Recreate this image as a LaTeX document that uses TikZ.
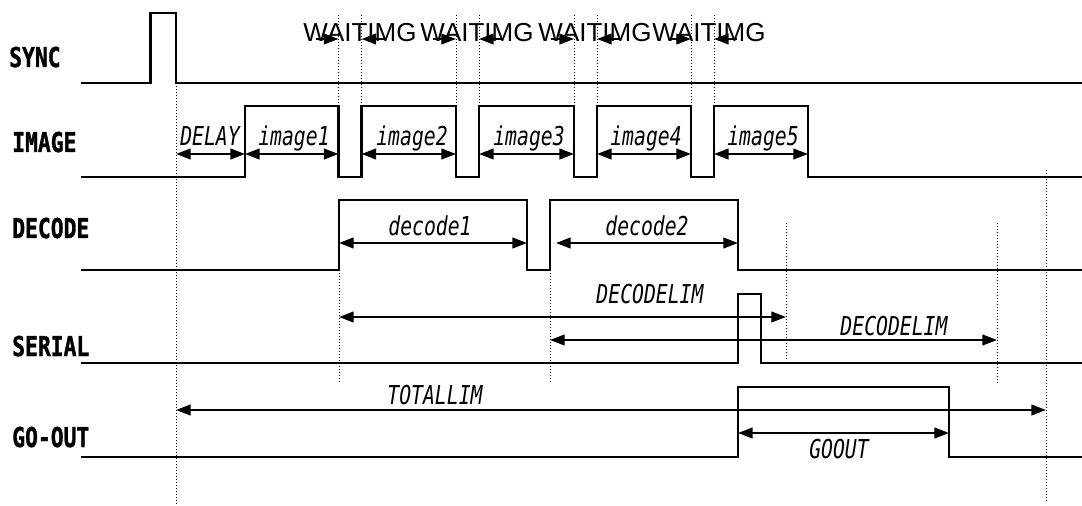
\documentclass[tikz,border=0pt]{standalone}
\usepackage{fontspec}
\usetikzlibrary{arrows.meta}
\newfontfamily\gothic[FakeStretch=0.78,BoldFeatures={FakeBold=1.2}]{DejaVu Sans Mono}
\newfontfamily\gothicit[FakeStretch=0.76]{DejaVu Sans Mono}
\newfontfamily\arialf{Liberation Sans}
\tikzset{
  sig/.style={line width=1.6pt, line join=miter},
  guide/.style={line width=0.75pt, dash pattern=on 0.75pt off 1.5pt},
  tipA/.tip={Triangle[length=11pt,width=8pt]},
  dimarr/.style={line width=1.6pt, tipA-tipA},
  onearr/.style={line width=1.6pt, -tipA},
  siglabel/.style={font=\gothic\bfseries\fontsize{20.5pt}{21pt}\selectfont, anchor=base west, inner sep=0pt},
  dimlabel/.style={font=\gothicit\itshape\fontsize{19.5pt}{20pt}\selectfont, anchor=base, inner sep=0pt},
  waitlabel/.style={font=\arialf\fontsize{19.5pt}{20pt}\selectfont, anchor=base, inner sep=0pt}
}
\begin{document}
\begin{tikzpicture}[x=0.75pt,y=-0.75pt]
\useasboundingbox (0,0) rectangle (1082,506);

% signal labels
\node[siglabel] (lsync) at (9,67) {SYNC};
\node[siglabel] (limage) at (12,152) {IMAGE};
\node[siglabel] (ldecode) at (12,238) {DECODE};
\node[siglabel] (lserial) at (12,356) {SERIAL};
\node[siglabel] (lgoout) at (12,447) {GO-OUT};

% guide lines
\draw[guide] (176,83) -- (176,505);
\foreach \gx in {338.5,361.5,456,479,574,597,691,714}
  \draw[guide] (\gx,15) -- (\gx,106);
\draw[guide] (339,270) -- (339,384);
\draw[guide] (550,270) -- (550,384);
\draw[guide] (786,223) -- (786,360);
\draw[guide] (997,223) -- (997,383);
\draw[guide] (1046,170) -- (1046,503);

% signals
\draw[sig] (81,83) -- (150.5,83) -- (150.5,13) -- (176,13) -- (176,83) -- (1082,83);
\draw[sig] (81,177) -- (245,177) -- (245,106) -- (338.5,106) -- (338.5,177) -- (361.5,177)
  -- (361.5,106) -- (456,106) -- (456,177) -- (479,177) -- (479,106) -- (574,106)
  -- (574,177) -- (597,177) -- (597,106) -- (691,106) -- (691,177) -- (714,177)
  -- (714,106) -- (808,106) -- (808,177) -- (1082,177);
\draw[sig] (81,270) -- (339,270) -- (339,200) -- (527,200) -- (527,270) -- (550,270)
  -- (550,200) -- (738,200) -- (738,270) -- (1082,270);
\draw[sig] (81,363) -- (738,363) -- (738,294) -- (761,294) -- (761,363) -- (1082,363);
\draw[sig] (81,457) -- (738,457) -- (738,387) -- (949,387) -- (949,457) -- (1082,457);

% WAIT / IMG arrows
\foreach \a/\b/\c [count=\i] in {338.5/361.5/360, 456/479/477, 574/597/595, 691/714/709}{
  \coordinate (wl\i) at (\a,39);
  \coordinate (wr\i) at (\b,39);
  \coordinate (wls\i) at ([xshift=-17pt]wl\i);
  \coordinate (wrs\i) at ([xshift=17pt]wr\i);
  \draw[onearr] (wls\i) -- (wl\i);
  \draw[onearr] (wrs\i) -- (wr\i);
  \node[waitlabel] (wt\i) at (\c,42) {WAITIMG};
}

% image arrows
\coordinate (d0) at (176,154);
\coordinate (i1a) at (245,154);   \coordinate (i1b) at (338.5,154);
\coordinate (i2a) at (361.5,154); \coordinate (i2b) at (456,154);
\coordinate (i3a) at (479,154);   \coordinate (i3b) at (574,154);
\coordinate (i4a) at (597,154);   \coordinate (i4b) at (691,154);
\coordinate (i5a) at (714,154);   \coordinate (i5b) at (808,154);
\draw[dimarr] (d0) -- (i1a);
\draw[dimarr] (i1a) -- (i1b);
\draw[dimarr] (i2a) -- (i2b);
\draw[dimarr] (i3a) -- (i3b);
\draw[dimarr] (i4a) -- (i4b);
\draw[dimarr] (i5a) -- (i5b);
\node[dimlabel] (tdelay) at (210,146) {DELAY};
\node[dimlabel] (timg1) at (294,146) {image1};
\node[dimlabel] (timg2) at (412,146) {image2};
\node[dimlabel] (timg3) at (529,146) {image3};
\node[dimlabel] (timg4) at (646,146) {image4};
\node[dimlabel] (timg5) at (763,146) {image5};

% decode arrows
\coordinate (dc1a) at (339,243); \coordinate (dc1b) at (527,243);
\coordinate (dc2a) at (556,243); \coordinate (dc2b) at (738,243);
\draw[dimarr] (dc1a) -- (dc1b);
\draw[dimarr] (dc2a) -- (dc2b);
\node[dimlabel] (tdec1) at (430,235) {decode1};
\node[dimlabel] (tdec2) at (647,235) {decode2};

% decode limits
\coordinate (dl1a) at (339,317); \coordinate (dl1b) at (786,317);
\coordinate (dl2a) at (550,340); \coordinate (dl2b) at (997,340);
\draw[dimarr] (dl1a) -- (dl1b);
\draw[dimarr] (dl2a) -- (dl2b);
\node[dimlabel] (tdl1) at (650,303) {DECODELIM};
\node[dimlabel] (tdl2) at (894,335) {DECODELIM};

% total and go-out
\coordinate (tla) at (176,410); \coordinate (tlb) at (1046,410);
\coordinate (goa) at (738,433); \coordinate (gob) at (949,433);
\draw[dimarr] (tla) -- (tlb);
\draw[dimarr] (goa) -- (gob);
\node[dimlabel] (ttl) at (435,404) {TOTALLIM};
\node[dimlabel] (tgo) at (839,458) {GOOUT};
\end{tikzpicture}
\end{document}
